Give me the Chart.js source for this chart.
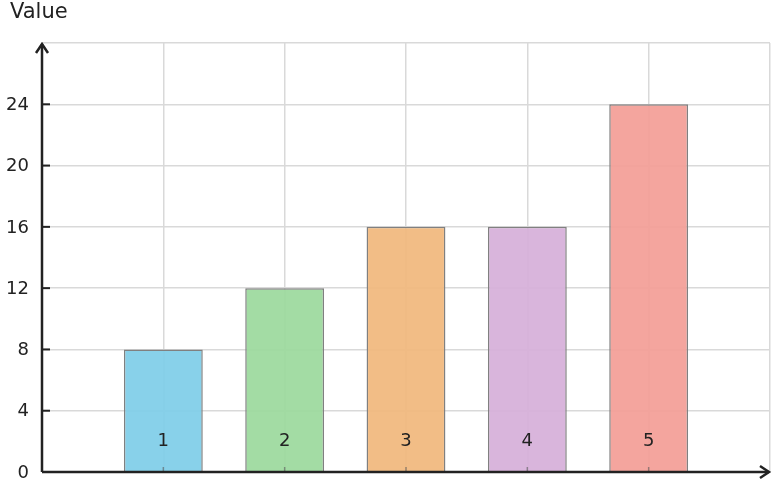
<!DOCTYPE html>
<html>
<head>
<meta charset="utf-8">
<script src="https://cdn.jsdelivr.net/npm/chart.js@4"></script>
<style>
  html, body { margin: 0; padding: 0; background: #fff; overflow: hidden; }
  canvas { display: block; }
</style>
</head>
<body>
<canvas id="chart" width="774" height="486"></canvas>
<script>
// data
const categories = ['1', '2', '3', '4', '5'];
const positions = [1, 2, 3, 4, 5];
const values = [8, 12, 16, 16, 24];
const yTicks = [0, 4, 8, 12, 16, 20, 24];
const barColors = ['#80CEE8', '#9CDA9E', '#F1B87D', '#D6B0DA', '#F39F97'];

const FONT = 'DejaVu Sans';
const INK = '#222';

// axes with arrows, inward ticks, tick labels, in-bar category labels, y title
const decor = {
    id: 'decor',
    afterDatasetsDraw(chart) {
        const { ctx, chartArea: a, scales: { x, y } } = chart;
        ctx.save();
        // small x tick marks
        ctx.strokeStyle = 'rgba(90,90,90,0.6)';
        ctx.lineWidth = 1.5;
        positions.forEach(p => {
            const px = x.getPixelForValue(p);
            ctx.beginPath();
            ctx.moveTo(px, a.bottom);
            ctx.lineTo(px, a.bottom - 5);
            ctx.stroke();
        });
        // category labels
        ctx.fillStyle = INK;
        ctx.font = '18px "' + FONT + '"';
        ctx.textAlign = 'center';
        ctx.textBaseline = 'middle';
        positions.forEach((p, i) => {
            ctx.fillText(categories[i], x.getPixelForValue(p), y.getPixelForValue(2));
        });
        // y tick labels
        ctx.textAlign = 'right';
        yTicks.forEach(t => {
            ctx.fillText(String(t), a.left - 13, y.getPixelForValue(t) + 1);
        });
        // axes
        ctx.strokeStyle = INK;
        ctx.lineWidth = 2.5;
        ctx.beginPath();
        ctx.moveTo(a.left, a.bottom);
        ctx.lineTo(a.left, a.top + 1);
        ctx.moveTo(a.left, a.bottom);
        ctx.lineTo(a.right - 1, a.bottom);
        ctx.stroke();
        // arrow heads
        ctx.beginPath();
        ctx.moveTo(a.left - 6, a.top + 10);
        ctx.lineTo(a.left, a.top + 1);
        ctx.lineTo(a.left + 6, a.top + 10);
        ctx.moveTo(a.right - 10, a.bottom - 6);
        ctx.lineTo(a.right - 1, a.bottom);
        ctx.lineTo(a.right - 10, a.bottom + 6);
        ctx.stroke();
        // inward y ticks
        ctx.lineWidth = 2;
        yTicks.forEach(t => {
            if (t === 0) return;
            const py = y.getPixelForValue(t);
            ctx.beginPath();
            ctx.moveTo(a.left, py);
            ctx.lineTo(a.left + 8, py);
            ctx.stroke();
        });
        // y title
        ctx.fillStyle = INK;
        ctx.font = '21px "' + FONT + '"';
        ctx.textAlign = 'left';
        ctx.textBaseline = 'middle';
        ctx.fillText('Value', 10, 13);
        ctx.restore();
    }
};

new Chart(document.getElementById('chart'), {
    type: 'bar',
    data: {
        datasets: [{
            data: positions.map((p, i) => ({ x: p, y: values[i] })),
            backgroundColor: barColors.map(c => c + 'EE'),
            borderColor: '#808080',
            borderWidth: 1.5,
            barPercentage: 0.65,
            categoryPercentage: 1
        }]
    },
    options: {
        responsive: false,
        animation: false,
        layout: { autoPadding: false, padding: { top: 43, right: 4, bottom: 14, left: 0 } },
        plugins: { legend: { display: false }, tooltip: { enabled: false } },
        scales: {
            x: {
                type: 'linear',
                min: 0,
                max: 6,
                offset: false,
                afterFit(s) { s.height = 0; },
                ticks: { display: false, stepSize: 1 },
                grid: { color: '#d9d9d9', lineWidth: 1.5, drawTicks: false, offset: false },
                border: { display: false }
            },
            y: {
                min: 0,
                max: 28,
                afterFit(s) { s.width = 42; },
                ticks: { display: false, stepSize: 4 },
                grid: { color: '#d9d9d9', lineWidth: 1.5, drawTicks: false },
                border: { display: false }
            }
        }
    },
    plugins: [decor]
});
</script>
</body>
</html>
